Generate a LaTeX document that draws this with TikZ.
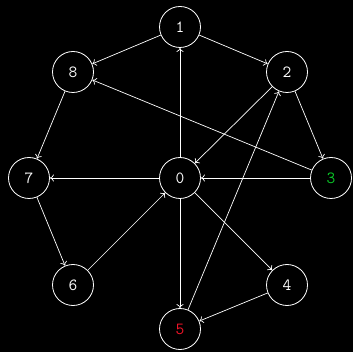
\documentclass[tikz,border=0pt]{standalone}
\usetikzlibrary{arrows.meta}
\definecolor{vgreen}{RGB}{10,200,40}
\definecolor{vred}{RGB}{240,20,40}
\begin{document}
\begin{tikzpicture}[x=1pt,y=-1pt,
  vtx/.style={circle,draw=white,line width=0.8pt,minimum size=41pt,inner sep=0pt,
    text=white,font=\ttfamily\fontsize{17}{17}\selectfont},
  edge/.style={draw=white,line width=0.7pt,-{To[length=4pt,width=7pt]}}]
  \fill[black] (0,0) rectangle (353,352);
  \useasboundingbox (0,0) rectangle (353,352);
  \node[vtx] (n0) at (180,178) {0};
  \node[vtx] (n1) at (180,27) {1};
  \node[vtx] (n2) at (287,72) {2};
  \node[vtx,text=vgreen] (n3) at (331,178) {3};
  \node[vtx] (n4) at (287,285) {4};
  \node[vtx,text=vred] (n5) at (180,329) {5};
  \node[vtx] (n6) at (73,285) {6};
  \node[vtx] (n7) at (29,178) {7};
  \node[vtx] (n8) at (73,72) {8};
  \draw[edge] (n1) -- (n8);
  \draw[edge] (n1) -- (n2);
  \draw[edge] (n0) -- (n1);
  \draw[edge] (n2) -- (n0);
  \draw[edge] (n2) -- (n3);
  \draw[edge] (n3) -- (n8);
  \draw[edge] (n3) -- (n0);
  \draw[edge] (n8) -- (n7);
  \draw[edge] (n0) -- (n7);
  \draw[edge] (n7) -- (n6);
  \draw[edge] (n6) -- (n0);
  \draw[edge] (n0) -- (n4);
  \draw[edge] (n0) -- (n5);
  \draw[edge] (n4) -- (n5);
  \draw[edge] (n5) -- (n2);
\end{tikzpicture}
\end{document}
